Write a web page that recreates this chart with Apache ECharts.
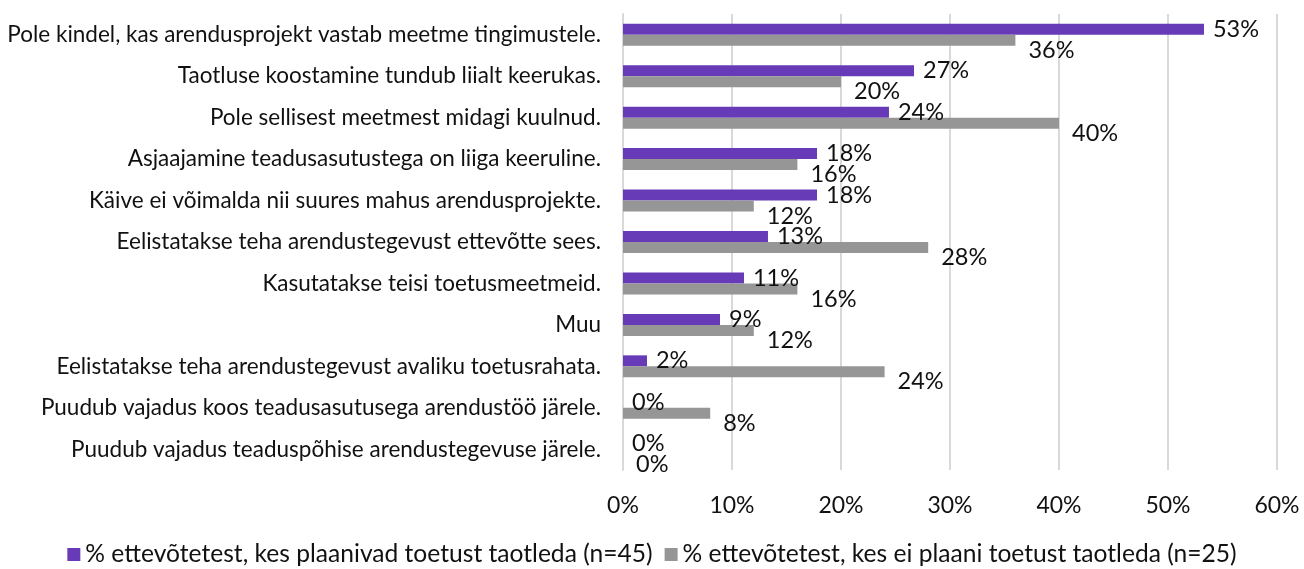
<!DOCTYPE html>
<html>
<head>
<meta charset="utf-8">
<script src="https://cdn.jsdelivr.net/npm/echarts@6/dist/echarts.min.js"></script>
<style>
  html, body { margin: 0; padding: 0; background: #fff; }
  #chart { width: 1304px; height: 569px; }
</style>
</head>
<body>
<div id="chart"></div>
<script>
const categories = [
  "Pole kindel, kas arendusprojekt vastab meetme tingimustele.",
  "Taotluse koostamine tundub liialt keerukas.",
  "Pole sellisest meetmest midagi kuulnud.",
  "Asjaajamine teadusasutustega on liiga keeruline.",
  "Käive ei võimalda nii suures mahus arendusprojekte.",
  "Eelistatakse teha arendustegevust ettevõtte sees.",
  "Kasutatakse teisi toetusmeetmeid.",
  "Muu",
  "Eelistatakse teha arendustegevust avaliku toetusrahata.",
  "Puudub vajadus koos teadusasutusega arendustöö järele.",
  "Puudub vajadus teaduspõhise arendustegevuse järele."
];
const seriesNames = [
  "% ettevõtetest, kes plaanivad toetust taotleda (n=45)",
  "% ettevõtetest, kes ei plaani toetust taotleda (n=25)"
];
// shares in percent
const planning = [53.3, 26.7, 24.4, 17.8, 17.8, 13.3, 11.1, 8.9, 2.2, 0, 0];
const notPlanning = [36, 20, 40, 16, 12, 28, 16, 12, 24, 8, 0];
const colors = ["#673ab7", "#969696"];

const font = "Lato, 'Open Sans', sans-serif";
const chart = echarts.init(document.getElementById("chart"));

chart.setOption({
  animation: false,
  textStyle: { fontFamily: font, color: "#111" },
  legend: {
    bottom: -3,
    left: "center",
    itemWidth: 13,
    itemHeight: 13,
    itemGap: 12,
    icon: "rect",
    textStyle: { fontSize: 24.6, color: "#111", fontFamily: font }
  },
  grid: { left: 623, right: 27, top: 14, bottom: 99 },
  xAxis: {
    type: "value",
    min: 0,
    max: 60,
    interval: 10,
    axisLabel: {
      formatter: "{value}%",
      fontSize: 23,
      color: "#111",
      margin: 24
    },
    splitLine: { lineStyle: { color: "#d9d9d9", width: 2 } },
    axisLine: { show: false },
    axisTick: { show: false }
  },
  yAxis: {
    type: "category",
    inverse: true,
    data: categories,
    axisLine: { show: true, lineStyle: { color: "#d9d9d9", width: 2 } },
    axisTick: { show: false },
    axisLabel: { fontSize: 22.5, color: "#111", margin: 22 }
  },
  series: [
    {
      name: seriesNames[0],
      type: "bar",
      data: planning,
      barWidth: 11,
      barGap: "0%",
      itemStyle: { color: colors[0] },
      label: {
        show: true,
        position: "right",
        distance: 9,
        offset: [0, 0],
        fontSize: 23.5,
        color: "#111",
        formatter: p => Math.round(p.value) + "%"
      }
    },
    {
      name: seriesNames[1],
      type: "bar",
      data: notPlanning,
      barWidth: 11,
      itemStyle: { color: colors[1] },
      label: {
        show: true,
        position: "right",
        distance: 13,
        offset: [0, 10],
        fontSize: 23.5,
        color: "#111",
        formatter: p => Math.round(p.value) + "%"
      }
    }
  ]
});
</script>
</body>
</html>
